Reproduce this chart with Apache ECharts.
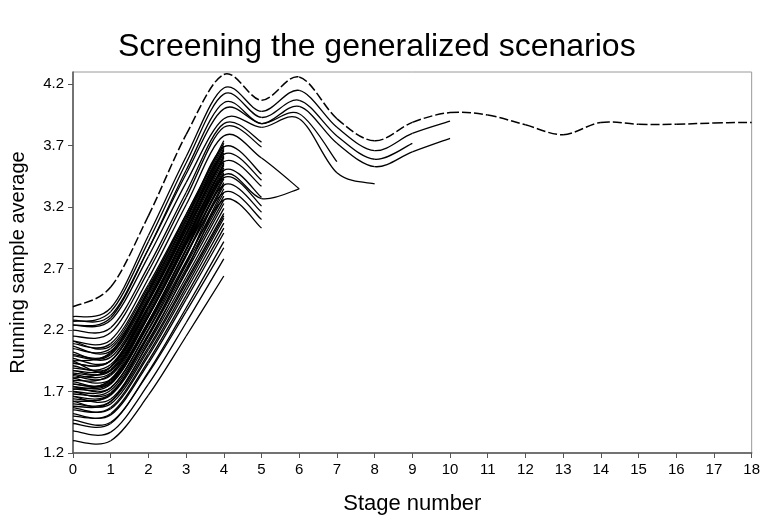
<!DOCTYPE html>
<html>
<head>
<meta charset="utf-8">
<script src="https://cdn.jsdelivr.net/npm/echarts@6/dist/echarts.min.js"></script>
<style>
  html, body { margin: 0; padding: 0; background: #fff; }
  #chart { width: 763px; height: 528px; }
</style>
</head>
<body>
<div id="chart"></div>
<script>
// Stage numbers on the horizontal axis and tick values on the vertical axis
const stageTicks = [0, 1, 2, 3, 4, 5, 6, 7, 8, 9, 10, 11, 12, 13, 14, 15, 16, 17, 18];
const averageTicks = [1.2, 1.7, 2.2, 2.7, 3.2, 3.7, 4.2];

// Running sample averages per scenario, one value per stage starting at stage 0.
// Scenarios dropped after stage 4
const runsToStage4 = [
  [1.30, 1.30, 1.67, 2.15, 2.64],
  [1.38, 1.37, 1.76, 2.26, 2.78],
  [1.47, 1.45, 1.85, 2.35, 2.87],
  [1.44, 1.44, 1.86, 2.38, 2.92],
  [1.52, 1.51, 1.93, 2.45, 2.99],
  [1.50, 1.52, 1.95, 2.48, 3.03],
  [1.57, 1.56, 1.99, 2.52, 3.07],
  [1.55, 1.57, 2.01, 2.55, 3.11],
  [1.62, 1.60, 2.04, 2.58, 3.13],
  [1.60, 1.62, 2.06, 2.60, 3.15],
  [1.66, 1.64, 2.09, 2.63, 3.19],
  [1.64, 1.67, 2.12, 2.67, 3.23],
  [1.70, 1.69, 2.15, 2.70, 3.26],
  [1.68, 1.71, 2.17, 2.73, 3.29],
  [1.74, 1.73, 2.20, 2.76, 3.32],
  [1.62, 1.68, 2.16, 2.75, 3.35],
  [1.78, 1.77, 2.24, 2.81, 3.38],
  [1.72, 1.76, 2.24, 2.82, 3.40],
  [1.81, 1.80, 2.27, 2.85, 3.43],
  [1.76, 1.79, 2.27, 2.86, 3.45],
  [1.95, 1.87, 2.33, 2.90, 3.47],
  [1.83, 1.83, 2.31, 2.89, 3.48],
  [1.79, 1.84, 2.32, 2.91, 3.50],
  [1.87, 1.87, 2.35, 2.93, 3.52],
  [1.85, 1.88, 2.37, 2.95, 3.54],
  [1.91, 1.90, 2.38, 2.97, 3.55],
  [1.72, 1.80, 2.31, 2.93, 3.56],
  [1.89, 1.92, 2.40, 2.99, 3.58],
  [1.97, 1.95, 2.43, 3.01, 3.60],
  [1.93, 1.95, 2.44, 3.02, 3.61],
  [2.02, 1.98, 2.46, 3.04, 3.62],
  [1.99, 2.00, 2.48, 3.06, 3.64],
  [2.07, 2.03, 2.50, 3.08, 3.66],
  [1.81, 1.90, 2.43, 3.05, 3.67],
  [2.05, 2.05, 2.52, 3.10, 3.68],
  [2.11, 2.07, 2.55, 3.12, 3.70],
  [2.09, 2.09, 2.57, 3.14, 3.72],
  [1.95, 2.02, 2.53, 3.14, 3.74]
];

// Scenarios dropped after stage 5
const runsToStage5 = [
  [1.58, 1.62, 2.10, 2.68, 3.26, 3.03],
  [1.66, 1.68, 2.15, 2.74, 3.32, 3.10],
  [1.70, 1.73, 2.21, 2.80, 3.38, 3.16],
  [1.76, 1.78, 2.26, 2.85, 3.44, 3.21],
  [1.84, 1.85, 2.32, 2.91, 3.50, 3.28],
  [1.87, 1.90, 2.39, 2.98, 3.57, 3.37],
  [1.93, 1.95, 2.45, 3.04, 3.63, 3.42],
  [2.00, 2.01, 2.51, 3.10, 3.69, 3.47],
  [2.15, 2.18, 2.68, 3.28, 3.85, 3.69],
  [2.20, 2.22, 2.72, 3.32, 3.88, 3.73]
];

// Scenarios kept beyond stage 5
const runsBeyondStage5 = [
  [2.11, 2.12, 2.62, 3.22, 3.78, 3.60, 3.35],
  [1.74, 1.77, 2.25, 2.86, 3.46, 3.27, 3.35],
  [2.24, 2.28, 2.80, 3.40, 3.92, 3.85, 3.92, 3.48, 3.39],
  [2.28, 2.32, 2.86, 3.47, 4.00, 3.88, 3.96, 3.57],
  [2.24, 2.30, 2.86, 3.50, 4.05, 3.88, 4.02, 3.72, 3.53, 3.65, 3.76],
  [2.27, 2.35, 2.92, 3.56, 4.12, 3.93, 4.07, 3.78, 3.59, 3.72],
  [2.31, 2.38, 2.97, 3.61, 4.17, 3.98, 4.15, 3.85, 3.66, 3.80, 3.90]
];

// Scenario screened through all stages (dashed)
const survivingRun = [2.39, 2.55, 3.13, 3.79, 4.28, 4.07, 4.26, 3.92, 3.74, 3.89,
                      3.97, 3.95, 3.87, 3.79, 3.89, 3.875, 3.875, 3.885, 3.89];

const FONT = '"Liberation Sans", Arial, Helvetica, sans-serif';

function toPoints(run) {
  return run.map((v, i) => [stageTicks[i], v]);
}

// Smoothed curve through the stage points (cubic Bezier segments, Catmull-Rom tangents),
// positioned with the cartesian coordinate system of the chart.
function smoothCurve(run, lineStyle) {
  return function (params, api) {
    if (params.dataIndex !== 0) return null;
    const pts = run.map((v, i) => api.coord([stageTicks[i], v]));
    const n = pts.length;
    const children = [];
    for (let i = 0; i < n - 1; i++) {
      const p0 = pts[Math.max(i - 1, 0)];
      const p1 = pts[i];
      const p2 = pts[i + 1];
      const p3 = pts[Math.min(i + 2, n - 1)];
      children.push({
        type: 'bezierCurve',
        shape: {
          x1: p1[0], y1: p1[1],
          x2: p2[0], y2: p2[1],
          cpx1: p1[0] + (p2[0] - p0[0]) / 6,
          cpy1: p1[1] + (p2[1] - p0[1]) / 6,
          cpx2: p2[0] - (p3[0] - p1[0]) / 6,
          cpy2: p2[1] - (p3[1] - p1[1]) / 6
        },
        style: Object.assign({ fill: null }, lineStyle)
      });
    }
    return { type: 'group', children: children };
  };
}

const solidStyle = { stroke: '#000', lineWidth: 1.3 };
const dashedStyle = { stroke: '#000', lineWidth: 1.5, lineDash: [9, 3] };

const series = [];
[...runsToStage4, ...runsToStage5, ...runsBeyondStage5].forEach((run) => {
  series.push({
    type: 'custom',
    data: toPoints(run),
    silent: true,
    renderItem: smoothCurve(run, solidStyle)
  });
});
series.push({
  type: 'custom',
  data: toPoints(survivingRun),
  silent: true,
  renderItem: smoothCurve(survivingRun, dashedStyle)
});

const chart = echarts.init(document.getElementById('chart'), null, { renderer: 'canvas' });
chart.setOption({
  animation: false,
  backgroundColor: '#fff',
  title: {
    text: 'Screening the generalized scenarios',
    left: 113,
    top: 26,
    textStyle: { fontFamily: FONT, fontSize: 32, fontWeight: 'normal', color: '#000' }
  },
  grid: {
    left: 71, right: 10, top: 72, bottom: 75,
    show: true, borderColor: '#9a9a9a', borderWidth: 1, backgroundColor: 'transparent'
  },
  xAxis: {
    type: 'value',
    min: 0, max: 18, interval: 1,
    name: 'Stage number',
    nameLocation: 'middle',
    nameGap: 40,
    nameTextStyle: { fontFamily: FONT, fontSize: 22, color: '#000' },
    axisLine: { show: true, onZero: false, lineStyle: { color: '#555', width: 1.5 } },
    axisTick: { show: true, inside: false, length: 5, customValues: stageTicks, lineStyle: { color: '#555' } },
    axisLabel: { customValues: stageTicks, margin: 9, fontFamily: FONT, fontSize: 15, color: '#000' },
    splitLine: { show: false }
  },
  yAxis: {
    type: 'value',
    min: 1.2, max: 4.3, interval: 0.5,
    name: 'Running sample average',
    nameLocation: 'middle',
    nameRotate: 90,
    nameGap: 45,
    nameTextStyle: { fontFamily: FONT, fontSize: 20, color: '#000' },
    axisLine: { show: true, onZero: false, lineStyle: { color: '#555', width: 1.5 } },
    axisTick: { show: true, inside: false, length: 5, customValues: averageTicks, lineStyle: { color: '#555' } },
    axisLabel: {
      customValues: averageTicks, margin: 9, fontFamily: FONT, fontSize: 15, color: '#000',
      formatter: (v) => v.toFixed(1)
    },
    splitLine: { show: false }
  },
  series: series
});
</script>
</body>
</html>
